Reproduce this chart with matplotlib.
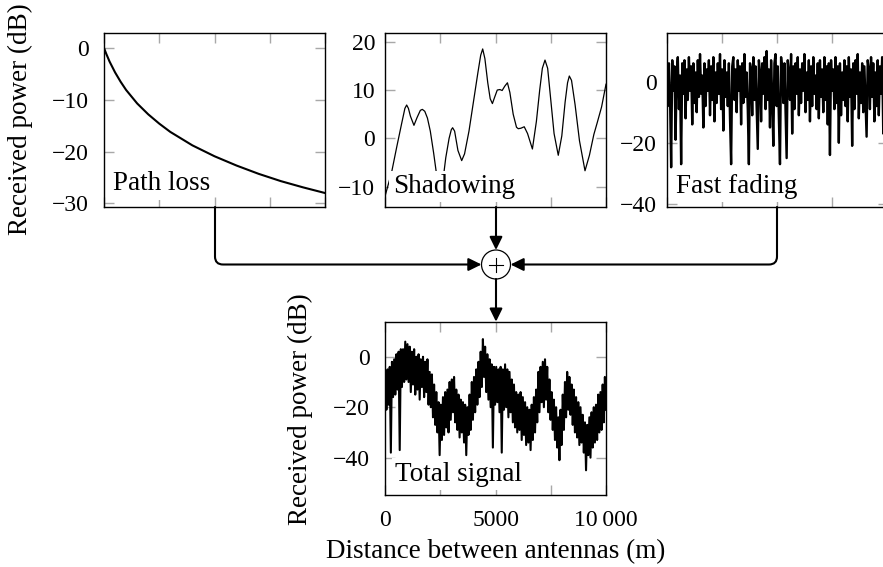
import matplotlib
matplotlib.use("Agg")
import matplotlib.pyplot as plt
import numpy as np
from matplotlib.path import Path
from matplotlib.patches import FancyArrowPatch, Circle

plt.rcParams['font.family'] = ['Liberation Serif', 'DejaVu Serif']

# ---- data ----
path_dist = [0, 100, 250, 500, 750, 1000, 1500, 2000, 2500, 3000, 4000,
             5000, 6000, 7000, 8000, 9000, 10000]
path_db = [0, -1.1, -2.6, -4.7, -6.5, -8.1, -10.7, -12.8, -14.6, -16.2, -18.8,
           -20.9, -22.7, -24.3, -25.7, -26.9, -28.0]

shadow_dist = [0, 300, 530, 750, 900, 980, 1060, 1150, 1310, 1450, 1600, 1690,
               1800, 1920, 2050, 2200, 2350, 2480, 2600, 2750, 2900, 3000, 3060,
               3150, 3300, 3470, 3600, 3800, 4000, 4200, 4330, 4420, 4520, 4650,
               4760, 4860, 4960, 5080, 5200, 5300, 5420, 5540, 5650, 5800, 5950,
               6030, 6150, 6300, 6450, 6670, 6850, 7000, 7120, 7240, 7360, 7500,
               7650, 7840, 8000, 8150, 8260, 8340, 8440, 8600, 8800, 9050, 9250,
               9450, 9600, 9800, 10000]
shadow_db = [-12, -7, -1.8, 3, 6.2, 6.9, 6.2, 4.6, 2.7, 4.3, 5.8, 6.0,
             5.6, 4.2, 1.5, -3, -8, -11, -9.5, -4, 0, 1.8, 2.2,
             1.5, -2.5, -4.6, -3.2, 1.5, 7.5, 13.5, 17.2, 18.5, 16.5, 11.5,
             8.2, 7.2, 8.5, 10, 10.1, 9.9, 10.8, 11.5, 9.5, 5, 2.3,
             2.0, 2.1, 2.4, 1, -2.2, 3.5, 10, 14.5, 16.2, 14.5, 8,
             1, -3.5, 0.5, 7.5, 11.5, 12.9, 12, 7, -0.5, -6.7, -3.5,
             0.8, 3.2, 6.5, 11.2]

fading_db = [
    4, -8, 6, -5, -28, 7, -3, 5, -19, 3, 8, -9, 2, -27, 6, -4, 7, -12, 4, -6,
    8, -3, 5, -14, 6, -7, 3, -10, 7, -5, 9, -4, 2, -15, 6, -8, 4, -3, 7, -11,
    5, -6, 8, -13, 3, -7, 6, -4, 9, -9, 4, -16, 7, -5, 3, -8, 6, -12, -27, 5,
    8, -6, 4, -10, 7, -3, 5, -14, 6, -7, 9, -5, 3, -9, -27, 6, 4, -11, 8, -6,
    5, -8, -22, 7, 3, -13, 6, -4, 8, -9, 10, -6, 4, -15, 7, -5, -21, 6, 9, -8,
    5, -12, -27, 8, 4, -7, 6, -10, -25, 7, 3, -6, 9, -17, 5, -9, 6, -4, 8, -11,
    4, -7, 6, -3, 9, -10, 3, -6, 7, -13, 5, -8, 8, -4, 2, -9, 6, -12, 7, -5,
    4, -10, 8, -6, 5, -14, 6, -24, 7, -3, 4, -9, 8, -7, 5, -20, 6, -11, 3, -6,
    7, -8, 5, -13, 8, -5, 4, -21, 6, -9, 7, -4, 9, -12, 3, -7, 6, -10, 5, -6,
    -18, 7, 4, -9, 8, -5, 6, -13, 3, -8, 7, -11, 5, -4, 8, -17, 6, -9, 4, -7]

total_db = [
    -8, -21, -5, -19, -4, -38, -2, -16, -1, -15, 1, -13, 2, -37, 3, -12, 3, -10, 6, -9,
    5, -10, 4, -14, 2, -11, 3, -15, 0, -13, 1, -17, -1, -12, 0, -16, -2, -14, -1, -19,
    -6, -20, -7, -24, -11, -27, -14, -30, -18, -39, -19, -33, -16, -31, -14, -28, -13, -30, -10, -25,
    -9, -22, -8, -26, -13, -29, -15, -32, -17, -30, -18, -34, -19, -39, -20, -31, -15, -29, -10, -25,
    -8, -22, -5, -19, -2, -16, 2, -12, 7, -8, 4, -14, 1, -17, -1, -20, -3, -36, -4, -19,
    -4, -18, -5, -22, -4, -38, -5, -21, -3, -20, -5, -24, -6, -22, -9, -26, -11, -28, -14, -30,
    -15, -29, -14, -33, -16, -31, -18, -35, -20, -34, -21, -37, -19, -33, -16, -30, -13, -26, -6, -22,
    -4, -18, -2, -20, -1, -17, -4, -22, -9, -25, -14, -29, -17, -33, -20, -36, -24, -41, -21, -35,
    -15, -29, -10, -24, -6, -21, -8, -23, -11, -27, -13, -30, -16, -32, -18, -35, -20, -34, -23, -38,
    -26, -45, -27, -39, -24, -40, -22, -36, -20, -34, -19, -33, -15, -30, -14, -29, -11, -26, -8, -21]

x_ticks = [0, 2500, 5000, 7500, 10000]
x_ticklabels = ['0', '', '5000', '', '10\u2009000']

W, H = 883, 567
fig = plt.figure(figsize=(W / 100, H / 100), dpi=100)


def px_axes(left, top, right, bottom):
    return fig.add_axes([left / W, 1 - bottom / H, (right - left) / W, (bottom - top) / H])


def style(ax, yticks, pad):
    ax.set_xlim(0, 10000)
    ax.set_xticks(x_ticks)
    ax.set_yticks(yticks)
    ax.tick_params(direction='in', length=7, width=1, color='#a8a8a8',
                   top=True, right=True, labelsize=17, pad=pad)
    for s in ax.spines.values():
        s.set_linewidth(1.0)


def label(ax, txt, x, y):
    ax.text(x, y, txt, transform=ax.transAxes, fontsize=19.5, ha='left', va='baseline',
            zorder=4, bbox=dict(boxstyle='square,pad=0.12', fc='white', ec='none'))


fontkw = dict(fontsize=19.5)

# Path loss
ax1 = px_axes(104, 33, 325, 207)
ax1.plot(path_dist, path_db, color='black', lw=1.5)
ax1.set_ylim(-30.7, 2.9)
style(ax1, [0, -10, -20, -30], 11)
ax1.set_xticklabels([])
label(ax1, 'Path loss', 0.04, 0.095)

# Shadowing
ax2 = px_axes(385, 33, 606, 207)
ax2.plot(shadow_dist, shadow_db, color='black', lw=0.9)
ax2.set_ylim(-14.2, 21.8)
style(ax2, [20, 10, 0, -10], 7)
ax2.set_xticklabels([])
label(ax2, 'Shadowing', 0.035, 0.08)

# Fast fading
ax3 = px_axes(666.7, 33, 887.7, 207)
ax3.plot(np.linspace(0, 10000, len(fading_db)), fading_db, color='black', lw=1.7)
ax3.set_ylim(-41, 15.9)
style(ax3, [0, -20, -40], 7)
ax3.set_xticklabels([])
label(ax3, 'Fast fading', 0.04, 0.08)

# Total signal
ax4 = px_axes(385.3, 321.7, 606, 495)
ax4.plot(np.linspace(0, 10000, len(total_db)), total_db, color='black', lw=1.5)
ax4.set_ylim(-54.8, 13.9)
style(ax4, [0, -20, -40], 11)
ax4.set_xticklabels(x_ticklabels)
label(ax4, 'Total signal', 0.045, 0.083)

fig.text(20 / W, 1 - 119 / H, 'Received power (dB)', rotation=90, ha='center', va='center', **fontkw)
fig.text(300 / W, 1 - 409 / H, 'Received power (dB)', rotation=90, ha='center', va='center', **fontkw)
fig.text(496 / W, 1 - 552 / H, 'Distance between antennas (m)', ha='center', va='center', **fontkw)

# arrows and summing node, in pixel coordinates
ov = fig.add_axes([0, 0, 1, 1], zorder=10)
ov.set_xlim(0, W)
ov.set_ylim(H, 0)
ov.axis('off')
ov.patch.set_alpha(0)

cx, cy, r = 496, 264.5, 14.5
arrow_kw = dict(arrowstyle='-|>,head_length=0.65,head_width=0.32', mutation_scale=12,
                lw=1.5, color='black', shrinkA=0, shrinkB=0)


def elbow(x0, y0, x1, y1, rad=8):
    sgn = 1 if x1 > x0 else -1
    verts = [(x0, y0), (x0, y1 - rad), (x0, y1), (x0 + sgn * rad, y1), (x1, y1)]
    codes = [Path.MOVETO, Path.LINETO, Path.CURVE3, Path.CURVE3, Path.LINETO]
    return Path(verts, codes)


ov.add_patch(FancyArrowPatch(path=elbow(215, 207, cx - r, cy), **arrow_kw))
ov.add_patch(FancyArrowPatch(path=elbow(777, 207, cx + r, cy), **arrow_kw))
ov.add_patch(FancyArrowPatch((cx, 207), (cx, cy - r), **arrow_kw))
ov.add_patch(FancyArrowPatch((cx, cy + r), (cx, 321.7), **arrow_kw))
ov.add_patch(Circle((cx, cy), r, fill=False, lw=0.9, color='black'))
ov.plot([cx - 7, cx + 7], [cy, cy], color='black', lw=0.8)
ov.plot([cx, cx], [cy - 7, cy + 7], color='black', lw=0.8)

fig.savefig('out.png', dpi=100)
